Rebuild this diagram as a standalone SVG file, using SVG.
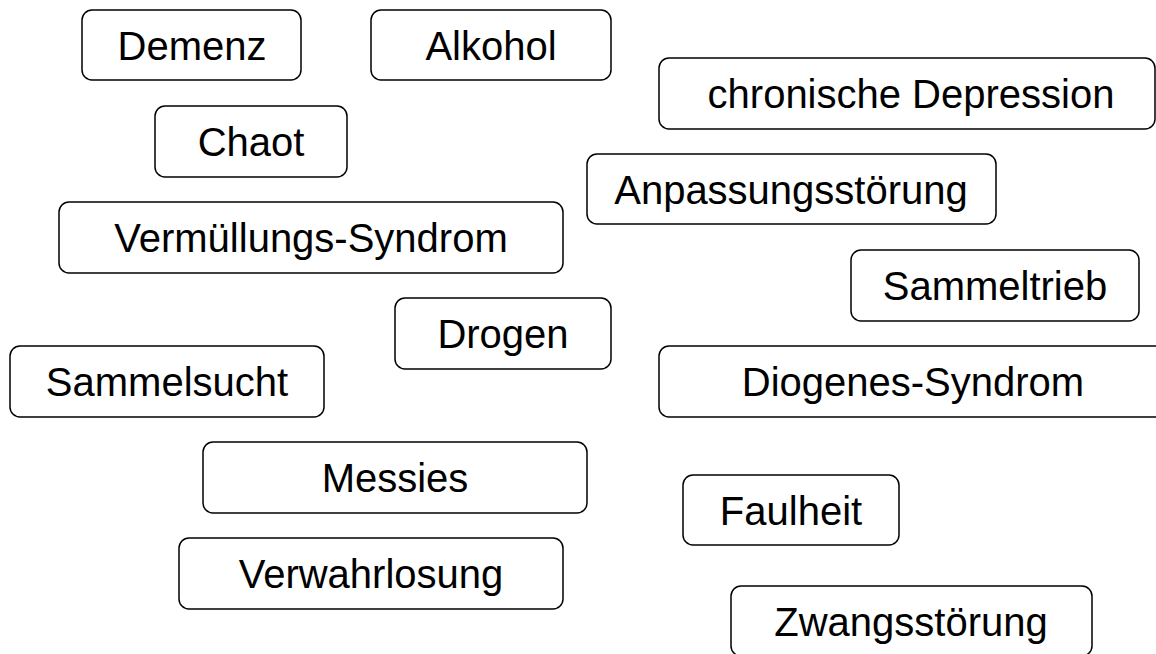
<svg xmlns="http://www.w3.org/2000/svg" width="1156" height="654" viewBox="0 0 1156 654">
<style>
.box{fill:#fff;stroke:#000;stroke-width:1.5}
.t{font-family:"Liberation Sans",Arial,sans-serif;font-size:40px;fill:#000;text-anchor:middle}
</style>
<rect width="1156" height="654" fill="#fff"/>
<g id="connectors"></g>
<g id="demenz"><rect class="box" x="82" y="10" width="219" height="70" rx="10"/><text class="t" x="192" y="60">Demenz</text></g>
<g id="alkohol"><rect class="box" x="371" y="10" width="240" height="70" rx="10"/><text class="t" x="491" y="60">Alkohol</text></g>
<g id="chronische-depression"><rect class="box" x="659" y="58" width="496" height="71" rx="10"/><text class="t" x="911" y="108">chronische Depression</text></g>
<g id="chaot"><rect class="box" x="155" y="106" width="192" height="71" rx="10"/><text class="t" x="251" y="156">Chaot</text></g>
<g id="anpassungsstoerung"><rect class="box" x="587" y="154" width="409" height="70" rx="10"/><text class="t" x="791" y="204">Anpassungsstörung</text></g>
<g id="vermuellungs-syndrom"><rect class="box" x="59" y="202" width="504" height="71" rx="10"/><text class="t" x="311" y="252">Vermüllungs-Syndrom</text></g>
<g id="sammeltrieb"><rect class="box" x="851" y="250" width="288" height="71" rx="10"/><text class="t" x="995" y="300">Sammeltrieb</text></g>
<g id="drogen"><rect class="box" x="395" y="298" width="216" height="71" rx="10"/><text class="t" x="503" y="348">Drogen</text></g>
<g id="sammelsucht"><rect class="box" x="10" y="346" width="314" height="71" rx="10"/><text class="t" x="167" y="396">Sammelsucht</text></g>
<g id="diogenes-syndrom"><rect class="box" x="659" y="346" width="508" height="71" rx="10"/><text class="t" x="913" y="396">Diogenes-Syndrom</text></g>
<g id="messies"><rect class="box" x="203" y="442" width="384" height="71" rx="10"/><text class="t" x="395" y="492">Messies</text></g>
<g id="faulheit"><rect class="box" x="683" y="475" width="216" height="70" rx="10"/><text class="t" x="791" y="525">Faulheit</text></g>
<g id="verwahrlosung"><rect class="box" x="179" y="538" width="384" height="71" rx="10"/><text class="t" x="371" y="588">Verwahrlosung</text></g>
<g id="zwangsstoerung"><rect class="box" x="731" y="586" width="361" height="70" rx="10"/><text class="t" x="911" y="636">Zwangsstörung</text></g>
</svg>
